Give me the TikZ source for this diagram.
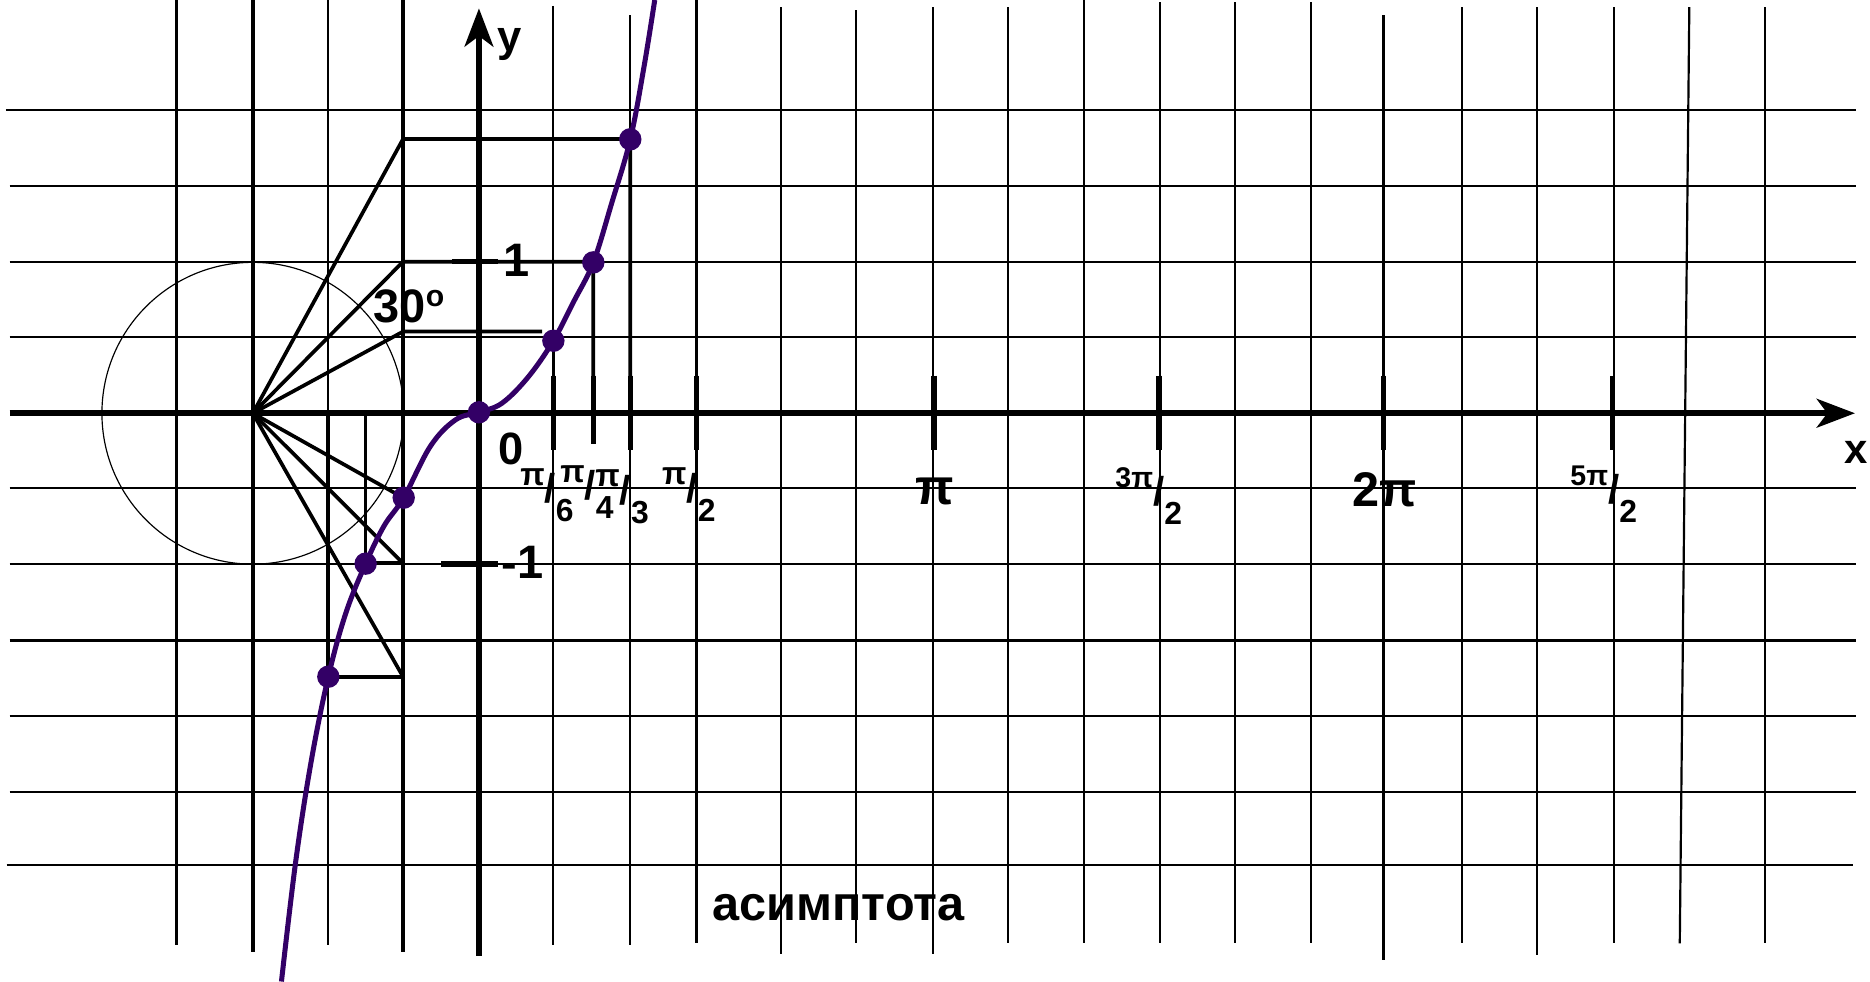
\documentclass[tikz,border=0pt]{standalone}
\usepackage{fontspec}
\setmainfont{Liberation Sans}
\usetikzlibrary{arrows.meta}
\definecolor{curvecol}{RGB}{51,0,102}
\newcommand{\pfr}[3]{\raisebox{10.5pt}{\fontsize{#1}{#1}\selectfont #2}{\fontsize{24}{24}\selectfont/}\raisebox{-11.5pt}{\fontsize{19}{19}\selectfont #3}}
\begin{document}
\begin{tikzpicture}[x=0.025cm, y=-0.025cm,
  thingrid/.style={line width=1.3pt},
  thickline/.style={line width=2.2pt},
  axisline/.style={line width=3.6pt, -{Stealth[length=0.8cm,width=0.6cm,inset=0.22cm]}},
  tickmark/.style={line width=3.3pt},
  lbl/.style={inner sep=0pt, font=\bfseries\fontsize{28}{30}\selectfont},
  fraclbl/.style={inner sep=0pt, anchor=base west, font=\bfseries}
]
\useasboundingbox (0,0) rectangle (1568,823);

% horizontal grid lines
\draw[thingrid] (5,92.2) -- (1556,92.2);
\foreach \yy in {155.7,219.4,282.9,409.3,472.6,537,600.4,664}
  \draw[thingrid] (8,\yy) -- (1556,\yy);
\draw[thingrid] (5.6,725) -- (1553.5,725);

% vertical grid lines
\foreach \xx/\ya/\yb in {148/0/792, 275/0/792, 464/5/792, 528.5/12.6/792, 655/6/800, 718/8.4/791, 782/6/800, 845/6/791, 909/0/791, 972.5/2/791, 1035.7/2/791, 1099.5/2/791, 1160/12.6/805, 1226/6/791, 1289/6/801, 1353/6/791, 1480/6/791}
  \draw[thingrid] (\xx,\ya) -- (\xx,\yb);
\draw[thingrid] (1416.5,6) -- (1408.5,791);
\draw[line width=2.1pt] (212,0) -- (212,798);
\draw[line width=2.1pt] (338,0) -- (338,798);
\draw[line width=2pt] (584,0) -- (584,791);

% unit circle
\coordinate (C) at (212,346.5);
\draw[line width=0.7pt] (C) circle (3.1625cm);

% axes
\coordinate (xs) at (8,346.5);
\coordinate (xe) at (1555.4,346.5);
\coordinate (ys) at (401.6,801.5);
\coordinate (ye) at (401.6,7);
\draw[axisline] (xs) -- (xe);
\draw[axisline] (ys) -- (ye);

% ticks
\foreach \xx/\yb in {464/377, 497.5/372.6, 528.5/377, 584/377, 783/377, 972/377, 1160/377, 1352/377}
  \draw[tickmark] (\xx,315) -- (\xx,\yb);
\draw[tickmark] (379,219.4) -- (417.5,219.4);
\draw[tickmark] (370,473) -- (417.6,473);

% points
\coordinate (D0) at (401.6,345.7);
\coordinate (D1) at (464,285.7);
\coordinate (D2) at (497.5,220);
\coordinate (D3) at (528.5,116.8);
\coordinate (E1) at (338.5,417.3);
\coordinate (E2) at (306.6,472.6);
\coordinate (E3) at (275.3,567.4);
\coordinate (P60) at (338,116.5);
\coordinate (P45) at (338,219.4);
\coordinate (P30) at (338,278);
\coordinate (M30) at (333,414.5);
\coordinate (M45) at (338,472.3);
\coordinate (M60) at (338,567.5);

% construction lines
\draw[thickline] (C) -- (P60) -- (528.5,116.5) -- (528.5,346.5);
\draw[thickline] (C) -- (P45) -- (497.5,219.4) -- (497.5,346.5);
\draw[thickline] (C) -- (P30) -- (454.5,278);
\draw[thickline] (D1) -- (464,346.5);
\draw[thickline] (C) -- (M30);
\draw[thickline] (C) -- (M45);
\draw[thickline] (C) -- (M60);
\draw[thickline] (306.6,346.5) -- (306.6,472.3) -- (M45);
\draw[thickline] (275.3,346.5) -- (275.3,567.5) -- (M60);

% tangent curve
\draw[curvecol, line width=3pt] plot[smooth, tension=0.6] coordinates {(236,823) (248,722) (261,638) (275.3,567.4) (290,514) (306.6,472.6) (322,441) (338.5,417.3) (361,374) (382,352) (401.6,345.7) (421,338) (443,316) (464,285.7) (481,253) (497.5,220) (513,170) (528.5,116.8) (540,56) (549,0)};

\foreach \p in {D0,D1,D2,D3,E1,E2,E3}
  \fill[curvecol] (\p) circle (0.235cm);

% labels
\node[lbl, font=\bfseries\fontsize{26}{28}\selectfont] (ylab) at (427,37) {y};
\node[lbl, font=\bfseries\fontsize{25}{28}\selectfont] (xlab) at (1556,379) {x};
\node[lbl, font=\bfseries\fontsize{27}{28}\selectfont] (zero) at (428.5,376.5) {0};
\node[lbl] (one) at (433,218) {1};
\node[lbl] (mone) at (438,471.5) {-1};
\node[lbl, anchor=base west] (deg) at (313,270) {30\raisebox{9pt}{\fontsize{18}{18}\selectfont o}};
\node[lbl, font=\bfseries\fontsize{30}{30}\selectfont] (pi) at (784,412) {π};
\node[lbl, font=\bfseries\fontsize{29}{30}\selectfont] (twopi) at (1161.4,410.5) {2π};
\node[lbl, font=\bfseries\fontsize{29}{30}\selectfont] (asym) at (703,761) {асимптота};

\node[fraclbl] (f6) at (436,421.5) {\pfr{19}{π}{6}};
\node[fraclbl] (f4) at (469.6,419) {\pfr{19}{π}{4}};
\node[fraclbl] (f3) at (499,423) {\pfr{19}{π}{3}};
\node[fraclbl] (f2) at (555,421) {\pfr{19}{π}{2}};
\node[fraclbl] (f32) at (935,423.5) {\pfr{17}{3π}{2}};
\node[fraclbl] (f52) at (1316.5,422) {\pfr{17}{5π}{2}};
\end{tikzpicture}
\end{document}
